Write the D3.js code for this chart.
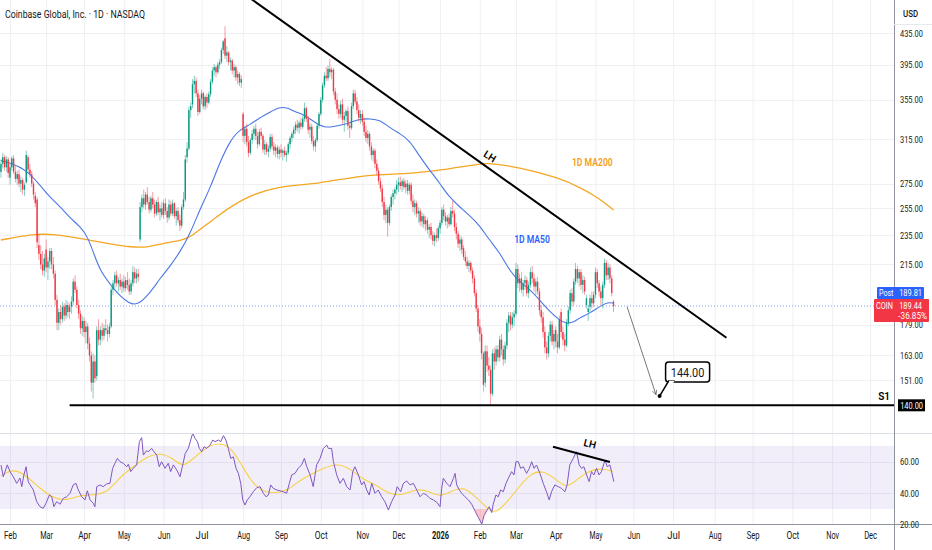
<!DOCTYPE html>
<html>
<head>
<meta charset="utf-8">
<script src="https://cdn.jsdelivr.net/npm/d3@7"></script>
<style>
  body { margin: 0; background: #fff; }
  svg text { font-family: Roboto, "Liberation Sans", sans-serif; }
</style>
</head>
<body>
<svg id="chart"></svg>
<script>
const width = 932;
const height = 550;

//////////////////// data
const startDay = new Date(2025, 0, 27);   // first bar, trading days only

// [open, high, low, close] one row per trading day
const ohlc = [
  // Jan 2025
  [285,296,280,292],[292,302,288,298],[298,300,286,289],[289,299,285,296],[296,298,280,284],
  // Feb
  [280,292,274,289],[289,299,286,297],[297,300,283,285],[285,290,276,279],[279,286,274,283],
  [283,287,272,275],[275,281,268,278],[278,280,266,270],[270,276,265,274],[276,304,275,300],
  [298,300,284,287],[287,292,280,283],[283,286,272,275],[275,277,262,266],[265,268,256,259],
  [262,264,226,230],[228,236,218,222],[222,228,212,215],[215,224,208,211],[211,222,207,219],
  // Mar
  [225,232,210,213],[213,220,205,217],[217,226,212,224],[224,226,212,215],[215,220,206,209],
  [209,211,190,193],[193,196,176,180],[180,188,176,186],[186,190,179,182],[182,192,180,189],
  [189,191,181,184],[184,193,182,190],[190,192,183,186],[186,191,182,189],[189,195,185,192],
  [192,206,190,204],[204,208,197,199],[199,201,188,190],[190,193,182,185],[185,187,174,177],
  [177,184,173,181],
  // Apr
  [181,183,172,175],[175,181,169,178],[178,180,166,169],[169,172,160,163],[163,165,146,150],
  [150,164,143,160],[160,163,150,152],[153,178,151,176],[176,182,168,171],[171,178,168,176],
  [176,180,170,173],[173,179,171,177],[177,182,174,176],[176,179,170,174],[174,180,172,178],
  [178,201,177,199],[199,205,196,203],[203,210,200,208],[208,211,201,203],[203,207,198,205],
  [205,209,199,201],[201,206,197,204],
  // May
  [204,208,198,200],[200,207,198,205],[205,210,199,202],[202,206,196,198],[198,205,196,203],
  [203,214,201,210],[210,213,203,206],[206,212,203,209],[209,212,204,207],[232,260,230,256],
  [256,266,252,263],[263,270,255,258],[258,268,254,266],[266,272,258,260],[260,264,251,254],
  [254,265,252,263],[263,268,255,258],[258,262,248,251],[251,262,249,260],[260,264,250,252],
  [252,258,246,255],[255,260,248,250],
  // Jun
  [250,262,247,259],[259,263,250,253],[253,256,244,248],[248,262,246,258],[258,261,249,251],
  [251,262,249,259],[259,260,247,249],[249,255,242,253],[253,256,244,246],[246,250,238,242],
  [242,258,240,256],[256,268,254,262],[262,300,260,296],[298,312,293,306],[306,348,304,344],
  [344,352,336,348],[350,378,346,372],[372,382,362,376],[376,380,358,362],[362,366,338,342],
  [342,360,340,356],
  // Jul
  [356,366,350,362],[362,364,345,348],[348,360,344,358],[358,362,346,352],[352,364,350,361],
  [361,378,358,375],[375,392,372,388],[388,396,382,392],[392,394,380,386],[386,398,384,395],
  [395,402,390,398],[398,416,396,413],[413,426,408,424],[428,444,402,406],[406,418,398,410],
  [410,412,394,398],[398,404,388,400],[400,402,384,388],[388,396,380,392],[392,394,376,380],
  [380,388,372,384],[384,386,370,374],[374,382,368,378],
  // Aug
  [340,342,312,318],[318,328,310,325],[325,330,308,312],[312,318,298,302],[302,316,300,314],
  [314,324,310,320],[320,328,315,325],[325,330,314,318],[318,322,306,310],[310,325,308,322],
  [322,326,315,318],[318,320,302,305],[305,314,300,310],[310,312,300,303],[303,309,298,306],
  [306,320,303,317],[317,320,305,308],[308,312,300,304],[304,310,298,307],[307,309,297,301],
  [301,308,296,305],
  // Sep
  [305,310,298,302],[302,306,295,304],[304,308,298,300],[300,304,294,302],[302,312,300,310],
  [310,318,306,316],[316,322,312,320],[320,327,316,324],[324,332,320,329],[329,334,322,326],
  [326,333,320,331],[331,336,324,327],[327,338,325,335],[335,352,332,346],[346,348,332,335],
  [335,338,320,324],[324,330,316,327],[327,330,310,313],[313,318,304,308],[308,316,303,314],
  [314,330,312,328],[328,342,325,340],
  // Oct
  [340,358,338,355],[355,374,352,371],[371,386,368,382],[382,392,376,379],[379,394,376,390],
  [390,402,380,386],[386,392,378,389],[389,391,360,364],[364,368,350,355],[355,362,340,345],
  [345,350,335,340],[340,354,336,350],[350,356,330,334],[334,342,322,338],[338,345,332,343],
  [343,348,324,328],[328,332,316,326],[326,352,324,348],[348,366,345,362],[362,366,350,353],
  [353,358,340,344],[344,350,332,336],[336,344,330,340],
  // Nov
  [340,344,328,332],[332,336,318,322],[322,328,312,316],[316,324,310,320],[320,322,304,308],
  [308,312,296,300],[300,306,294,304],[304,306,288,292],[292,296,282,286],[286,289,274,277],
  [277,280,268,271],[271,274,256,260],[260,264,246,250],[250,258,244,254],[254,256,234,244],
  [244,258,242,256],[256,266,253,264],[264,270,258,267],[267,272,262,270],[270,278,266,274],
  // Dec
  [274,280,268,276],[276,281,270,273],[273,279,268,277],[277,280,270,272],[272,278,267,275],
  [275,278,266,269],[269,276,266,274],[274,276,258,261],[261,266,252,256],[256,262,250,259],
  [259,261,248,251],[251,256,244,253],[253,255,242,245],[245,252,241,249],[249,251,240,243],
  [243,249,238,246],[246,248,236,239],[239,243,233,241],[241,244,232,235],[235,238,228,231],
  [231,237,227,235],[235,240,230,233],[233,242,231,240],
  // Jan 2026
  [240,246,236,244],[244,256,242,254],[254,258,246,249],[249,252,242,245],[245,250,240,248],
  [248,251,241,243],[243,256,242,253],[253,261,248,251],[251,254,238,241],[241,244,232,236],
  [236,238,226,229],[229,235,224,232],[232,234,222,225],[226,228,218,220],[220,224,214,217],
  [217,220,212,214],[214,218,210,216],[216,217,209,211],[211,213,203,206],[206,208,195,197],
  [197,199,186,188],[188,190,175,178],
  // Feb
  [178,182,170,174],[174,177,161,164],[164,165,146,149],[150,168,148,165],[165,168,155,158],
  [158,162,153,156],[156,158,140,145],[145,166,144,164],[164,167,156,160],[160,168,158,166],
  [166,168,160,162],[162,173,160,171],[171,174,163,166],[166,168,158,161],[161,170,159,168],
  [168,182,166,180],[180,186,175,184],[184,186,176,179],[179,186,177,183],[183,187,178,185],
  // Mar
  [185,216,184,212],[212,215,200,203],[203,209,198,206],[206,210,197,199],[199,205,195,203],
  [203,208,199,205],[205,207,195,197],[197,204,194,202],[202,213,200,210],[210,214,203,206],
  [206,209,198,201],[201,206,196,204],[204,207,196,198],[198,200,184,187],[187,190,180,183],
  [183,186,172,175],[175,178,164,167],[167,170,161,164],[164,175,162,173],[173,181,170,179],
  [179,181,168,170],[170,176,166,174],
  // Apr
  [176,178,167,170],[170,174,164,167],[167,184,166,182],[186,188,172,175],[175,178,168,171],
  [171,174,165,168],[168,182,167,180],[180,189,178,187],[187,199,185,197],[197,200,189,192],
  [192,206,190,204],[204,216,202,212],[212,214,203,206],[206,212,201,210],[210,212,199,202],
  [202,208,197,205],[205,207,196,198],[190,196,188,194],[186,190,181,188],[189,196,186,194],
  [194,198,188,191],[191,198,189,196],
  // May
  [196,213,194,210],[210,212,200,203],[203,205,195,198],[198,201,190,194],[194,204,188,202],
  [202,219,200,216],[216,218,205,208],[208,216,205,213],[213,215,203,206],[206,208,195,197],
  [192,193,186,189.44]
];

// [bar, value]
const ma50 = [[0,295],[5,293],[14,287],[22,273],[27,264],[33,256],[38,248],[44,241],[48,234],
  [52,220],[55,211],[60,203],[66,195],[71,191],[75,190],[80,194],[85,201],[88,206],[93,213],
  [99,223],[105,237],[110,254],[116,272],[121,293],[127,314],[132,324],[138,329],[143,336],
  [149,342],[154,347],[158,347],[163,342],[168,339],[174,331],[179,326],[184,327],[189,329],
  [193,331],[199,335],[204,335],[210,334],[215,326],[221,320],[226,314],[232,298],[237,287],
  [243,275],[248,264],[254,256],[259,250],[265,242],[270,232],[276,223],[282,210],[287,204],
  [293,199],[298,193],[304,186],[309,181.5],[313,179.3],[317,180.4],[320,182.6],[326,185.4],
  [331,188.9],[336,191.8],[339,191]];

const ma200 = [[0,231.6],[18,235.9],[29,235.9],[49,231.6],[73,226],[82,226.8],[88,228.8],
  [101,231.6],[105,233.7],[119,248.4],[134,263.2],[153,273],[176,274.7],[199,282.3],[226,283.2],
  [244,286.6],[265,291.9],[270,292.8],[287,289],[309,279.7],[320,272.2],[331,263.2],[339,253.7]];

const rsi = [[0,57.9],[1.3,50.5],[3.5,58],[5,53.7],[6.8,50.5],[8.7,46.3],[10.5,49.7],[11.5,44.2],
  [12.7,51.6],[13.9,56.8],[15.1,47.3],[17.9,42.1],[19.8,34.7],[21.6,31.5],[23.4,30.5],[24.9,33.7],
  [26.8,38.9],[28.1,37.8],[29.3,31.5],[30.8,34.7],[32.7,33.1],[34.5,36.8],[36.4,37.8],[38.2,40],
  [40,45.3],[41.5,46.3],[42.8,42.1],[44.7,37.8],[46.5,35.8],[47.8,41.6],[49.3,35.8],[51.1,33.7],
  [52,31.5],[53,44.2],[54.8,45.3],[56.6,44.2],[58.5,46],[60.3,46.3],[61.8,55.8],[63.1,59],
  [64.4,62.1],[65.9,60],[67.7,59],[69.6,56.8],[70.5,58.4],[71.8,53.7],[73.2,55.8],[75.1,58],
  [76.6,72.7],[77.9,75.2],[78.8,64.2],[80.6,67],[81.5,66.3],[83.4,68.4],[84.7,66.3],[86.2,64.2],
  [87.6,56.8],[88.9,60],[90.8,55.8],[92.6,59],[93.9,53.7],[95.4,58],[97.3,54.7],[99.1,50.5],
  [100.6,58],[102,65.3],[103.7,68.4],[105,73.7],[106.1,78],[107.4,74.8],[108.7,72.7],[109.8,68.4],
  [111.1,66.3],[112.4,69.5],[113.9,68.4],[115.7,70.5],[117.2,73.7],[118.5,72.7],[120.3,73.7],
  [121.7,72.7],[123.1,76.5],[124.5,73.7],[125.8,68.4],[127.2,62.1],[128.6,63.1],[130.1,55.8],
  [131.4,52.6],[132.7,46.3],[133.8,35.8],[135,32.6],[136.3,35.8],[137.8,37.8],[139.6,41],
  [141.5,43.5],[143.4,44.2],[145.2,40],[146.7,37.8],[148,38.9],[149.3,45.3],[150.7,43.1],
  [152.6,42.1],[154.4,41.6],[156.2,41],[158.1,40],[159.6,46.3],[160.9,51.6],[162.7,52.6],
  [164.5,55.8],[166.4,58],[167.9,62.1],[169.2,57],[171,52],[172.8,44.2],[174.7,58],[176.6,62.1],
  [178.4,68.4],[180.3,70.5],[181.2,68.4],[183,68.4],[184,60],[185.8,51.6],[187.6,46.3],
  [189.5,49.5],[191.3,44.2],[193.2,42.1],[194.7,53.7],[195.9,56.8],[197.8,51.6],[199.6,45.3],
  [200.9,47.4],[202.4,42.1],[203.8,38.9],[205.2,46.3],[207,40],[208.8,42.1],[210.7,37.8],
  [212.5,34.7],[214.4,29.4],[216.2,34.7],[218.1,38.9],[219.3,44.2],[221.2,41],[222.7,46.3],
  [224.5,47.8],[226.4,45.3],[228.2,46.3],[230.1,42.1],[231.9,37.8],[233.8,40],[235.6,38.9],
  [237.4,36.8],[239.3,35.8],[241.2,34.3],[243,31.5],[243.9,43.1],[244.8,49.5],[246.7,46.3],
  [248.5,44.2],[250.4,49.5],[251.3,52.6],[252.2,45.3],[253.7,42.1],[255,40],[256.8,37.8],
  [258.7,35.8],[260.5,33.1],[262.3,28.9],[264.2,24.7],[266.1,20.5],[267.3,25.8],[268.8,28.9],
  [270.2,31.5],[271.6,27.8],[272.4,33.1],[273.9,38.9],[275.2,37.8],[276.5,42.1],[278,41],
  [279.5,46.3],[280.8,49.5],[282.6,53.7],[283.9,51.6],[285,60],[286.3,60],[287.6,55.8],
  [289.1,56.8],[290.9,52.6],[292.4,55.8],[293.7,60],[295,55.8],[296.4,57.9],[298.3,52.6],
  [300.1,46.3],[301.9,41],[303.4,35.8],[304.7,41],[306.5,45.3],[308.4,44.2],[310.2,43.1],
  [312.1,41],[313.3,45.3],[314.8,58],[316.7,62.1],[318.5,66.3],[320,58],[321.3,55.8],[322.6,56.8],
  [324.1,51.6],[325.5,47.4],[326.8,53.7],[328.1,51.6],[329.6,55.8],[331,51.6],[332.3,53.7],
  [334.3,61],[335.5,56.8],[337,58],[337.9,53.7],[339.2,47.4]];

const rsiMa = [[0,51],[6.8,55.8],[14.2,51],[21.6,43.1],[29,36.8],[36.4,35.3],[43.7,38.9],
  [51.1,38.9],[58.5,40],[65.9,50.5],[73.2,56.8],[80.6,63.1],[88,65.8],[95.4,62.1],[100.9,55.8],
  [108.3,64.2],[115.7,70.5],[120.5,71.6],[126,70.5],[132.3,60],[137.8,48.5],[143.4,42.1],
  [148.9,40],[158.1,41],[165.5,48.5],[172.8,52.6],[178.4,55.8],[185.8,59],[193.2,55.8],
  [200.5,48.5],[207.9,45.3],[215.3,38.9],[222.7,38.9],[230.1,43.1],[237.4,41],[243,37.8],
  [248.5,41],[256,44.2],[261.5,38.9],[267,33.1],[272.4,26.8],[278,31.5],[285.4,42.1],
  [292.8,52.6],[300.1,54.7],[307.5,48.5],[313,43.1],[318.5,48.5],[325.8,54.7],[333.1,55.8],
  [338.6,53.7]];

const priceTicks = [435, 395, 355, 315, 275, 255, 235, 215, 179, 163, 151];
const rsiTicks = [60, 40, 20];

const trendLine = [[137.7, 484], [401.5, 172]];
const rsiTrend = [[305.5, 69.5], [337, 59.8]];
const support = {price: 140, from: 38};
const arrowPts = [[346.5, 189], [362.5, 144.6]];
const target = {bar: 364.5, price: 144};
const lastClose = 189.44;
const postClose = 189.81;
const changePct = "-36.85%";

//////////////////// setup
const plotRight = 894;
const mainBottom = 433;
const rsiTop = 434;
const rsiBottom = 524;

const up = "#089981", down = "#f23645";
const gridColor = "#eef0f4";
const axisFont = 'Roboto, sans-serif';

// squeeze a text to the narrow width the screenshot shows
function narrow(sel, perChar) {
  sel.each(function() {
    let t = d3.select(this);
    t.attr('textLength', t.text().length * perChar).attr('lengthAdjust', 'spacingAndGlyphs');
  });
}

let svg = d3.select('#chart')
  .attr('width', width)
  .attr('height', height)
  .style('background-color', 'white');

// trading day list and month starts
let days = d3.timeDay.range(startDay, new Date(2026, 11, 31))
  .filter(d => d.getDay() != 0 && d.getDay() != 6);
let monthIdx = [];
days.forEach((d, i) => {
  if (i > 0 && d.getMonth() != days[i - 1].getMonth()) monthIdx.push(i);
});

let xScale = d3.scaleLinear().domain([5, 480]).range([10, 868.3]);
let yScale = d3.scaleLog().domain([140, 435]).range([405.3, 33]);
let rsiY = d3.scaleLinear().domain([40, 60]).range([493.3, 461.7]);

let defs = svg.append('defs');
defs.append('clipPath').attr('id', 'clipMain')
  .append('rect').attr('x', 0).attr('y', 0).attr('width', plotRight).attr('height', mainBottom);
defs.append('clipPath').attr('id', 'clipRsi')
  .append('rect').attr('x', 0).attr('y', rsiTop).attr('width', plotRight).attr('height', rsiBottom - rsiTop);
defs.append('clipPath').attr('id', 'clipLow')
  .append('rect').attr('x', 0).attr('y', rsiY(30)).attr('width', plotRight).attr('height', rsiBottom - rsiY(30));
defs.append('marker').attr('id', 'arrowHead')
  .attr('viewBox', '0 0 10 10').attr('refX', 9).attr('refY', 5)
  .attr('markerWidth', 7).attr('markerHeight', 7).attr('orient', 'auto')
  .append('path').attr('d', 'M1,1 L9,5 L1,9')
  .attr('fill', 'none').attr('stroke', '#555').attr('stroke-width', 1.2);

//////////////////// grid
let grid = svg.append('g');
grid.selectAll('.vgrid').data(monthIdx).enter().append('line')
  .attr('x1', d => xScale(d) + 0.5).attr('x2', d => xScale(d) + 0.5)
  .attr('y1', 0).attr('y2', rsiBottom)
  .attr('stroke', gridColor);
grid.selectAll('.hgrid').data(priceTicks).enter().append('line')
  .attr('x1', 0).attr('x2', plotRight)
  .attr('y1', d => Math.round(yScale(d)) + 0.5).attr('y2', d => Math.round(yScale(d)) + 0.5)
  .attr('stroke', gridColor);
grid.selectAll('.rgrid').data([60, 40]).enter().append('line')
  .attr('x1', 0).attr('x2', plotRight)
  .attr('y1', d => Math.round(rsiY(d)) + 0.5).attr('y2', d => Math.round(rsiY(d)) + 0.5)
  .attr('stroke', gridColor);

//////////////////// price pane
let main = svg.append('g').attr('clip-path', 'url(#clipMain)');

let maLine = d3.line()
  .x(d => xScale(d[0]))
  .y(d => yScale(d[1]))
  .curve(d3.curveBasis);

main.append('path').datum(ma200).attr('d', maLine)
  .attr('fill', 'none').attr('stroke', '#f5a623').attr('stroke-width', 1.3);
main.append('path').datum(ma50).attr('d', maLine)
  .attr('fill', 'none').attr('stroke', '#4a77e8').attr('stroke-width', 1.1);

// last price dotted line
main.append('line')
  .attr('x1', 0).attr('x2', plotRight)
  .attr('y1', yScale(lastClose)).attr('y2', yScale(lastClose))
  .attr('stroke', '#7f9cf2').attr('stroke-width', 1).attr('stroke-dasharray', '1,2');

let candle = main.selectAll('.candle').data(ohlc).enter().append('g');
candle.append('line')
  .attr('x1', (d, i) => xScale(i)).attr('x2', (d, i) => xScale(i))
  .attr('y1', d => yScale(d[1])).attr('y2', d => yScale(d[2]))
  .attr('stroke', d => d[3] >= d[0] ? up : down)
  .attr('stroke-width', 0.7).attr('opacity', 0.7);
candle.append('rect')
  .attr('x', (d, i) => xScale(i) - 0.7)
  .attr('width', 1.4)
  .attr('y', d => yScale(Math.max(d[0], d[3])))
  .attr('height', d => Math.max(1, Math.abs(yScale(d[0]) - yScale(d[3]))))
  .attr('fill', d => d[3] >= d[0] ? up : down);

// trend line and support
main.append('line')
  .attr('x1', xScale(trendLine[0][0])).attr('y1', yScale(trendLine[0][1]))
  .attr('x2', xScale(trendLine[1][0])).attr('y2', yScale(trendLine[1][1]))
  .attr('stroke', '#000').attr('stroke-width', 2);
main.append('line')
  .attr('x1', xScale(support.from)).attr('x2', plotRight)
  .attr('y1', yScale(support.price)).attr('y2', yScale(support.price))
  .attr('stroke', '#000').attr('stroke-width', 2);

// projection arrow
main.append('line')
  .attr('x1', xScale(arrowPts[0][0])).attr('y1', yScale(arrowPts[0][1]))
  .attr('x2', xScale(arrowPts[1][0])).attr('y2', yScale(arrowPts[1][1]))
  .attr('stroke', '#555').attr('stroke-width', 0.8)
  .attr('marker-end', 'url(#arrowHead)');

// 144 callout
let tx = xScale(target.bar), ty = yScale(target.price);
let callout = svg.append('g');
callout.append('rect')
  .attr('x', tx + 6).attr('y', ty - 34).attr('width', 44).attr('height', 20).attr('rx', 3)
  .attr('fill', 'white').attr('stroke', '#000').attr('stroke-width', 1.5);
callout.append('path')
  .attr('d', `M${tx},${ty} L${tx + 9},${ty - 15} L${tx + 15},${ty - 15}`)
  .attr('fill', 'white').attr('stroke', '#000').attr('stroke-width', 1.5);
callout.append('line')
  .attr('x1', tx + 9.5).attr('x2', tx + 14.5).attr('y1', ty - 14.5).attr('y2', ty - 14.5)
  .attr('stroke', 'white').attr('stroke-width', 1.6);
callout.append('circle').attr('cx', tx).attr('cy', ty).attr('r', 2).attr('fill', '#000');
callout.append('text')
  .attr('x', tx + 28).attr('y', ty - 19.5).attr('text-anchor', 'middle')
  .attr('font-size', 12).attr('fill', '#131722').text('144.00')
  .call(narrow, 5.6);

// labels in price pane
svg.append('text').attr('x', 5).attr('y', 18)
  .attr('font-size', 10).attr('fill', '#131722')
  .text('Coinbase Global, Inc. · 1D · NASDAQ')
  .attr('textLength', 140).attr('lengthAdjust', 'spacingAndGlyphs');
svg.append('text').attr('x', xScale(284)).attr('y', yScale(229.5))
  .attr('font-size', 10).attr('font-weight', 600).attr('fill', '#2962ff').text('1D MA50')
  .call(narrow, 5.1);
svg.append('text').attr('x', xScale(316)).attr('y', yScale(290))
  .attr('font-size', 10).attr('font-weight', 600).attr('fill', '#f59d1b').text('1D MA200')
  .call(narrow, 5.1);
svg.append('text')
  .attr('transform', `translate(${xScale(269.5)},${yScale(296)}) rotate(32)`)
  .attr('text-anchor', 'middle').attr('font-size', 10).attr('font-weight', 600)
  .attr('fill', '#000').text('LH');
svg.append('text').attr('x', 890).attr('y', yScale(support.price) - 5)
  .attr('text-anchor', 'end').attr('font-size', 10).attr('font-weight', 600)
  .attr('fill', '#000').text('S1');

//////////////////// RSI pane
let rsiPane = svg.append('g').attr('clip-path', 'url(#clipRsi)');
rsiPane.append('rect')
  .attr('x', 0).attr('width', plotRight)
  .attr('y', rsiY(70)).attr('height', rsiY(30) - rsiY(70))
  .attr('fill', 'rgba(126,87,194,0.10)');

let lowArea = d3.area().x(d => xScale(d[0])).y0(rsiY(30)).y1(d => rsiY(d[1]));

rsiPane.append('path').datum(rsi).attr('d', lowArea)
  .attr('clip-path', 'url(#clipLow)')
  .attr('fill', 'rgba(242,54,69,0.28)');
rsiPane.append('path').datum(rsiMa)
  .attr('d', d3.line().x(d => xScale(d[0])).y(d => rsiY(d[1])).curve(d3.curveBasis))
  .attr('fill', 'none').attr('stroke', '#f7d046').attr('stroke-width', 1.1);
rsiPane.append('path').datum(rsi)
  .attr('d', d3.line().x(d => xScale(d[0])).y(d => rsiY(d[1])))
  .attr('fill', 'none').attr('stroke', '#7e57c2').attr('stroke-width', 1);
rsiPane.append('line')
  .attr('x1', xScale(rsiTrend[0][0])).attr('y1', rsiY(rsiTrend[0][1]))
  .attr('x2', xScale(rsiTrend[1][0])).attr('y2', rsiY(rsiTrend[1][1]))
  .attr('stroke', '#000').attr('stroke-width', 2);
svg.append('text')
  .attr('transform', `translate(${xScale(325.5)},${rsiY(69.2)}) rotate(14)`)
  .attr('text-anchor', 'middle').attr('font-size', 10).attr('font-weight', 600)
  .attr('fill', '#000').text('LH');

//////////////////// frame lines
svg.append('line').attr('x1', 0).attr('x2', width).attr('y1', mainBottom + 0.5).attr('y2', mainBottom + 0.5)
  .attr('stroke', '#dcdfe6');
svg.append('line').attr('x1', 0).attr('x2', width).attr('y1', rsiBottom + 0.5).attr('y2', rsiBottom + 0.5)
  .attr('stroke', '#8f939c');
svg.append('line').attr('x1', plotRight + 0.5).attr('x2', plotRight + 0.5).attr('y1', 0).attr('y2', height)
  .attr('stroke', '#8f939c');
svg.append('line').attr('x1', plotRight).attr('x2', width).attr('y1', 24.5).attr('y2', 24.5)
  .attr('stroke', '#e6e8ee');

//////////////////// axes
let priceAxis = d3.axisRight(yScale).tickValues(priceTicks).tickFormat(d3.format('.2f'))
  .tickSize(0).tickPadding(6);
let pa = svg.append('g').attr('transform', `translate(${plotRight},0)`).call(priceAxis);
pa.select('.domain').remove();
pa.selectAll('text').attr('font-size', 9.5).attr('fill', '#131722').style('font-family', axisFont)
  .call(narrow, 3.8);

let rsiAxis = d3.axisRight(rsiY).tickValues(rsiTicks).tickFormat(d3.format('.2f'))
  .tickSize(0).tickPadding(6);
let ra = svg.append('g').attr('transform', `translate(${plotRight},0)`).call(rsiAxis);
ra.select('.domain').remove();
ra.selectAll('text').attr('font-size', 9.5).attr('fill', '#131722').style('font-family', axisFont)
  .call(narrow, 3.8);

let timeAxis = d3.axisBottom(xScale).tickValues(monthIdx)
  .tickFormat(i => days[i].getMonth() == 0 ? d3.timeFormat('%Y')(days[i]) : d3.timeFormat('%b')(days[i]))
  .tickSize(0).tickPadding(8);
let ta = svg.append('g').attr('transform', `translate(0,${rsiBottom})`).call(timeAxis);
ta.select('.domain').remove();
ta.selectAll('text').attr('font-size', 10).attr('fill', '#131722')
  .style('font-family', axisFont)
  .attr('font-weight', i => days[i].getMonth() == 0 ? 700 : 400)
  .call(narrow, 4.3);

svg.append('text').attr('x', 903).attr('y', 17).attr('font-size', 9.5)
  .attr('font-weight', 500).attr('fill', '#131722').text('USD').call(narrow, 5);

//////////////////// price tags
let lastY = yScale(lastClose);
let coinTop = lastY - 7;
let tags = svg.append('g').style('font-family', axisFont).attr('font-size', 9.5);

tags.append('rect').attr('x', 877).attr('y', coinTop - 12).attr('width', 47).attr('height', 12)
  .attr('fill', '#2962ff').attr('rx', 1);
tags.append('text').attr('x', 879).attr('y', coinTop - 2.5).attr('fill', 'white').text('Post')
  .call(narrow, 3.6);
tags.append('text').attr('x', 922).attr('y', coinTop - 2.5).attr('text-anchor', 'end')
  .attr('fill', 'white').text(postClose.toFixed(2)).call(narrow, 3.8);

tags.append('rect').attr('x', 874).attr('y', coinTop).attr('width', 55).attr('height', 23)
  .attr('fill', '#f23645').attr('rx', 1);
tags.append('text').attr('x', 876).attr('y', coinTop + 10).attr('fill', 'white').text('COIN')
  .call(narrow, 4.2);
tags.append('text').attr('x', 922).attr('y', coinTop + 10).attr('text-anchor', 'end')
  .attr('fill', 'white').text(lastClose.toFixed(2)).call(narrow, 3.8);
tags.append('text').attr('x', 927).attr('y', coinTop + 20.5).attr('text-anchor', 'end')
  .attr('fill', 'white').text(changePct).call(narrow, 4.1);

let sY = yScale(support.price);
tags.append('rect').attr('x', 898).attr('y', sY - 6).attr('width', 27).attr('height', 12)
  .attr('fill', '#000');
tags.append('text').attr('x', 923).attr('y', sY + 3.5).attr('text-anchor', 'end')
  .attr('fill', 'white').text(support.price.toFixed(2)).call(narrow, 3.8);
</script>
</body>
</html>
